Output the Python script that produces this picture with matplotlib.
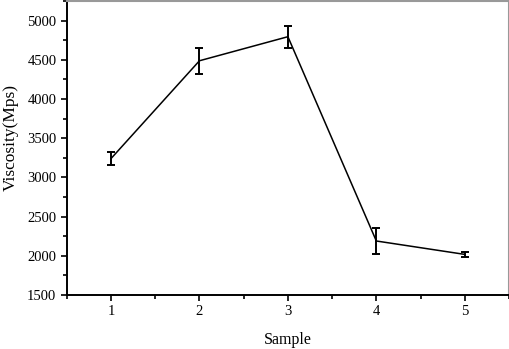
import matplotlib
matplotlib.use("Agg")
import matplotlib.pyplot as plt
from matplotlib.ticker import MultipleLocator

# sample number vs viscosity
samples = [1, 2, 3, 4, 5]
viscosity = [3240, 4488, 4795, 2188, 2017]
err = [80, 165, 140, 168, 35]

plt.rcParams['font.family'] = ['Liberation Serif', 'DejaVu Serif']

fig = plt.figure(figsize=(5.1, 3.49), dpi=100)
ax = fig.add_axes([0.131, 0.155, 0.867, 0.842])

ax.errorbar(samples, viscosity, yerr=err, color='black', lw=1.1,
            elinewidth=1.4, capsize=3, capthick=1.4)

ax.set_xlim(0.5, 5.5)
ax.set_ylim(1500, 5250)
ax.xaxis.set_major_locator(MultipleLocator(1))
ax.xaxis.set_minor_locator(MultipleLocator(0.5))
ax.yaxis.set_major_locator(MultipleLocator(500))
ax.yaxis.set_minor_locator(MultipleLocator(250))
ax.tick_params(which='both', direction='out', width=1.2, labelsize=10.5)
ax.tick_params(which='major', length=4)
ax.tick_params(which='minor', length=3)

for side in ['left', 'bottom']:
    ax.spines[side].set_linewidth(1.4)
for side in ['top', 'right']:
    ax.spines[side].set_color('#999999')
    ax.spines[side].set_linewidth(1.5)

ax.set_xlabel('Sample', fontsize=11.5, labelpad=10)
ax.set_ylabel('Viscosity(Mps)', fontsize=12.5)
ax.yaxis.set_label_coords(-0.108, 0.535)

fig.savefig('out.png', dpi=100)
